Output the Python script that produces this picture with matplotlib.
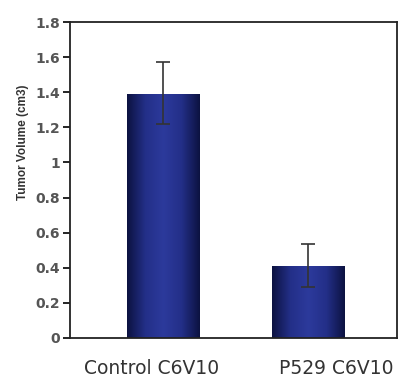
import numpy as np
import matplotlib.pyplot as plt
from matplotlib.colors import LinearSegmentedColormap

groups = ['Control C6V10', 'P529 C6V10']
volume = [1.39, 0.41]
err_low = [0.17, 0.12]
err_high = [0.18, 0.125]

plt.rcParams['font.family'] = ['DejaVu Sans']

fig = plt.figure(figsize=(4.05, 3.81), dpi=100)
ax = fig.add_axes([0.173, 0.113, 0.807, 0.829])

x = np.arange(len(groups))
w = 0.5
bars = ax.bar(x, volume, width=w, color='#1d2878', zorder=2)

# horizontal shading on each bar
cmap = LinearSegmentedColormap.from_list('bar', ['#0c1240', '#232f88', '#2c3a9c', '#232f88', '#0c1240'])
grad = np.linspace(0, 1, 256).reshape(1, -1)
for b in bars:
    im = ax.imshow(grad, cmap=cmap, aspect='auto', zorder=2.5,
                   extent=[b.get_x(), b.get_x() + b.get_width(), 0, b.get_height()])
    im.set_clip_path(b)

ax.errorbar(x, volume, yerr=[err_low, err_high], fmt='none', ecolor='#333333',
            elinewidth=1.2, capsize=5, capthick=1.2, zorder=3)

ax.set_xlim(-0.64, 1.61)
ax.set_ylim(0, 1.8)
ax.set_yticks(np.arange(0, 1.81, 0.2))
ax.set_yticklabels(['0', '0.2', '0.4', '0.6', '0.8', '1', '1.2', '1.4', '1.6', '1.8'])
# category labels sit a little off the bar centres in the original
ax.set_xticks(x + np.array([-0.08, 0.19]))
ax.set_xticklabels(groups, fontsize=13.5, color='#333333')
ax.tick_params(axis='x', length=0, pad=15)
ax.tick_params(axis='y', direction='out', length=5, width=1.2, labelsize=10,
               labelcolor='#555555', pad=2)
for lbl in ax.get_yticklabels():
    lbl.set_fontweight('bold')
for s in ax.spines.values():
    s.set_linewidth(1.3)
    s.set_color('#222222')
ax.set_ylabel('Tumor Volume (cm3)', fontsize=8.5, color='#333333',
              family='Liberation Sans', fontweight='bold')
ax.yaxis.set_label_coords(-0.125, 0.62)

fig.savefig('out.png', dpi=100, facecolor='w')
